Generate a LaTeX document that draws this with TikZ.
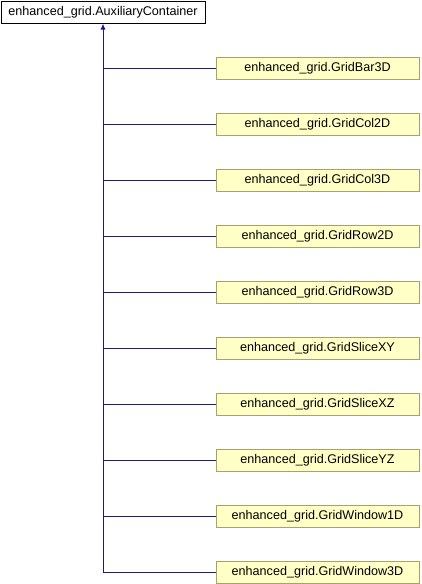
\documentclass[tikz,border=0pt]{standalone}
\usepackage{fontspec}
\setmainfont{Liberation Sans}
\usetikzlibrary{arrows.meta, positioning}
\definecolor{edgenavy}{HTML}{1A1A8C}
\definecolor{boxolive}{HTML}{A3A36B}
\definecolor{boxyellow}{HTML}{FFFFC6}

\begin{document}
\begin{tikzpicture}[
  x=1pt, y=-1pt,
  node distance=34pt,
  base/.style={draw, minimum height=22pt, inner sep=0pt, outer sep=0pt,
    line width=1pt, font=\fontsize{12.6}{14}\selectfont},
  parent/.style={base, minimum width=204pt, fill=white},
  child/.style={base, minimum width=203pt, draw=boxolive, fill=boxyellow},
  arrow/.style={-{Latex[length=6pt, width=5pt]}, draw=edgenavy, line width=1pt},
  link/.style={draw=edgenavy, line width=1pt}
]
\useasboundingbox (0,0) rectangle (422,584);
\node[parent] (aux) at (103, 12.5) {enhanced\_grid.AuxiliaryContainer};

\node[child] (bar3d) at (317.5, 68) {enhanced\_grid.GridBar3D};
\node[child, below=of bar3d] (col2d) {enhanced\_grid.GridCol2D};
\node[child, below=of col2d] (col3d) {enhanced\_grid.GridCol3D};
\node[child, below=of col3d] (row2d) {enhanced\_grid.GridRow2D};
\node[child, below=of row2d] (row3d) {enhanced\_grid.GridRow3D};
\node[child, below=of row3d] (slicexy) {enhanced\_grid.GridSliceXY};
\node[child, below=of slicexy] (slicexz) {enhanced\_grid.GridSliceXZ};
\node[child, below=of slicexz] (sliceyz) {enhanced\_grid.GridSliceYZ};
\node[child, below=of sliceyz] (window1d) {enhanced\_grid.GridWindow1D};
\node[child, below=of window1d] (window3d) {enhanced\_grid.GridWindow3D};

\draw[arrow] (window3d.west) -| (aux.south);
\draw[link] (bar3d.west) -- (bar3d.west -| aux.south);
\draw[link] (col2d.west) -- (col2d.west -| aux.south);
\draw[link] (col3d.west) -- (col3d.west -| aux.south);
\draw[link] (row2d.west) -- (row2d.west -| aux.south);
\draw[link] (row3d.west) -- (row3d.west -| aux.south);
\draw[link] (slicexy.west) -- (slicexy.west -| aux.south);
\draw[link] (slicexz.west) -- (slicexz.west -| aux.south);
\draw[link] (sliceyz.west) -- (sliceyz.west -| aux.south);
\draw[link] (window1d.west) -- (window1d.west -| aux.south);
\end{tikzpicture}
\end{document}
